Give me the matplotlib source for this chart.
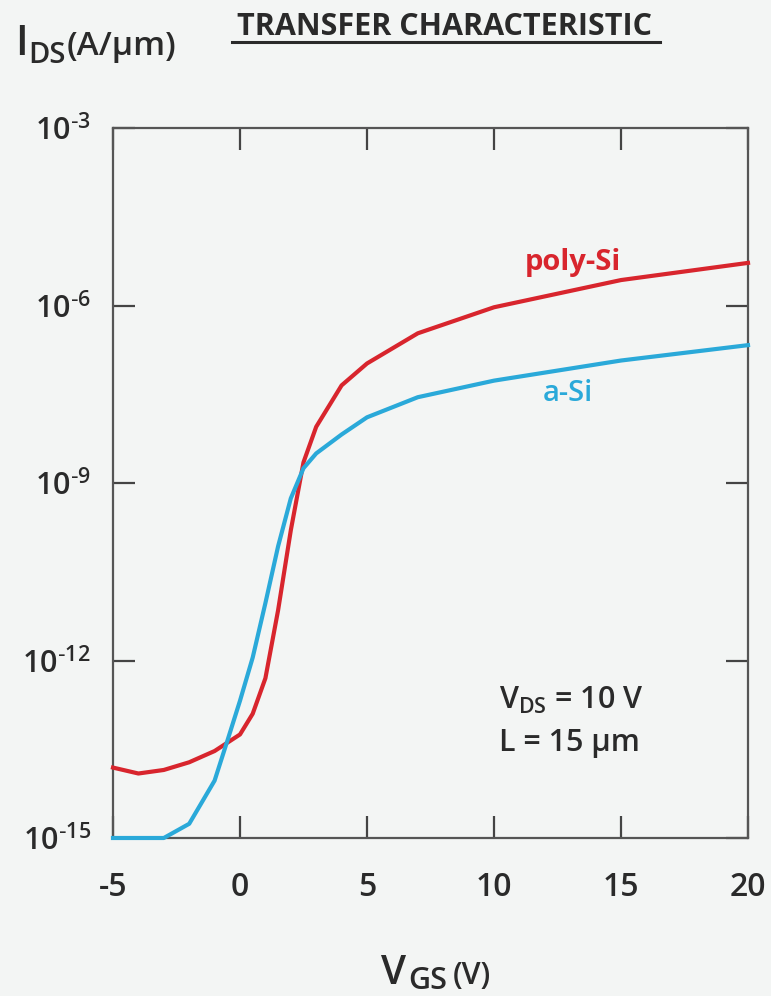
import matplotlib.pyplot as plt
from matplotlib.lines import Line2D
import numpy as np

# gate voltage (V) and log10 of drain current (A/um)
vgs_poly = [-5, -4, -3, -2, -1, 0, 0.5, 1, 1.5, 2, 2.5, 3, 4, 5, 7, 10, 15, 20]
log_ids_poly = [-13.81, -13.91, -13.85, -13.72, -13.53, -13.25, -12.9, -12.3,
                -11.15, -9.8, -8.65, -8.05, -7.35, -6.98, -6.47, -6.03, -5.57, -5.28]

vgs_asi = [-5, -4, -3, -2, -1, -0.5, 0, 0.5, 1, 1.5, 2, 2.5, 3, 4, 5, 7, 10, 15, 20]
log_ids_asi = [-15.0, -15.0, -15.0, -14.76, -14.03, -13.36, -12.68, -11.95, -11.03,
               -10.07, -9.26, -8.75, -8.5, -8.18, -7.89, -7.55, -7.27, -6.93, -6.67]

x_ticks = [-5, 0, 5, 10, 15, 20]
y_ticks = [-3, -6, -9, -12, -15]

red = '#d8252d'
blue = '#2aa9d9'
bg = '#f3f5f4'
ink = '#2a2a2a'
font = 'Open Sans'

W, H = 771, 996


def px(x, y):
    # pixel position -> figure fraction
    return x / W, 1 - y / H


fig = plt.figure(figsize=(W / 100, H / 100), dpi=100, facecolor=bg)
ax = fig.add_axes([113 / W, 1 - 838 / H, 635 / W, 710 / H], facecolor=bg)

ax.plot(vgs_poly, 10.0 ** np.array(log_ids_poly), color=red, lw=3.0,
        solid_joinstyle='round', clip_on=False, zorder=3)
ax.plot(vgs_asi, 10.0 ** np.array(log_ids_asi), color=blue, lw=3.0,
        solid_joinstyle='round', clip_on=False, zorder=3)

ax.set_yscale('log')
ax.set_xlim(-5, 20)
ax.set_ylim(1e-15, 1e-3)
ax.set_xticks(x_ticks)
ax.set_xticklabels([str(t) for t in x_ticks])
ax.set_yticks([10.0 ** t for t in y_ticks])
ax.set_yticklabels([r'$\mathregular{10^{\text{-}%d}}$' % abs(t) for t in y_ticks])
ax.minorticks_off()

for lab in ax.get_xticklabels():
    lab.set_fontfamily(font)
    lab.set_fontweight('semibold')
    lab.set_fontsize(23)
for lab in ax.get_yticklabels():
    lab.set_fontfamily(font)
    lab.set_fontweight('semibold')
    lab.set_fontsize(22)

ax.tick_params(axis='both', which='major', direction='in', length=16, width=1.6,
               color='#444444', labelcolor=ink, top=True, right=True)
ax.tick_params(axis='x', pad=24)
ax.tick_params(axis='y', pad=16)
for sp in ax.spines.values():
    sp.set_color('#555555')
    sp.set_linewidth(1.6)

# curve labels
ax.text(13.1, 10 ** -5.27, 'poly-Si', color=red, fontsize=21, fontweight='bold',
        fontfamily=font, ha='center', va='center')
ax.text(12.9, 10 ** -7.48, 'a-Si', color=blue, fontsize=21, fontweight='semibold',
        fontfamily=font, ha='center', va='center')

# bias conditions
ax.text(10.2, 10 ** -12.68, r'$\mathregular{V_{DS}}$ = 10 V', color=ink, fontsize=22,
        fontweight='semibold', fontfamily=font, ha='left', va='center')
ax.text(10.2, 10 ** -13.4, 'L = 15 µm', color=ink, fontsize=22,
        fontweight='semibold', fontfamily=font, ha='left', va='center')

# title with underline
fig.text(*px(445, 35), 'TRANSFER CHARACTERISTIC', fontsize=22, fontweight='bold',
         fontfamily=font, color=ink, ha='center', va='baseline')
x0, y0 = px(232, 42)
x1, _ = px(660, 42)
fig.add_artist(Line2D([x0, x1], [y0, y0], transform=fig.transFigure, color=ink, lw=2.2))

# y axis label: I_DS (A/um)
fig.text(*px(15, 55), 'I', fontsize=30, fontweight='semibold', fontfamily=font,
         color=ink, ha='left', va='baseline')
fig.text(*px(28, 63), 'DS', fontsize=21, fontweight='semibold', fontfamily=font,
         color=ink, ha='left', va='baseline')
fig.text(*px(67, 55), '(A/µm)', fontsize=24, fontweight='semibold', fontfamily=font,
         color=ink, ha='left', va='baseline')

# x axis label: V_GS (V)
fig.text(*px(381, 984), 'V', fontsize=29, fontweight='semibold', fontfamily=font,
         color=ink, ha='left', va='baseline')
fig.text(*px(408, 989), 'GS', fontsize=22, fontweight='semibold', fontfamily=font,
         color=ink, ha='left', va='baseline')
fig.text(*px(453, 984), '(V)', fontsize=22, fontweight='semibold', fontfamily=font,
         color=ink, ha='left', va='baseline')

fig.savefig('out.png', dpi=100, facecolor=bg)
